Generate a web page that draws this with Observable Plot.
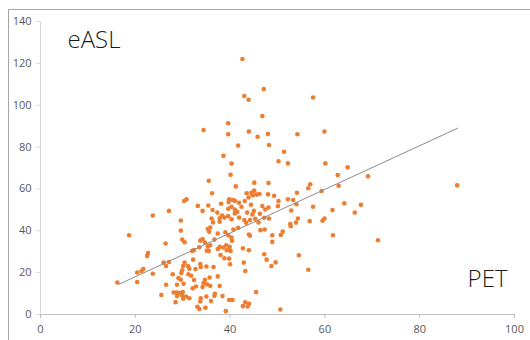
<!DOCTYPE html>
<html>
<head>
<meta charset="utf-8">
<script src="https://cdn.jsdelivr.net/npm/d3@7"></script>
<script src="https://cdn.jsdelivr.net/npm/@observablehq/plot@0.6"></script>
<style>
  body { margin: 0; background: #fff; }
  #wrap { position: relative; width: 530px; height: 340px; overflow: hidden; }
  #border { position: absolute; left: 8px; top: 9px; width: 600px; height: 600px;
            border-left: 1px solid #a6a6a6; border-top: 1px solid #a6a6a6; pointer-events: none; }
</style>
</head>
<body>
<div id="wrap"><div id="border"></div></div>
<script>
const petValues = [
  42.6,47.1,43.0,43.9,57.5,46.8,39.6,34.4,43.96,59.9,39.6,47.98,54.2,45.8,41.7,48.2,38.6,51.4,50.2,52.2,
  40.3,60.1,64.8,40.1,69.1,62.7,41.2,45.1,48.1,62.9,87.9,35.5,56.9,56.5,59.3,54.1,36.2,44.5,45.1,45.6,
  46.2,44.8,48.0,49.3,43.9,30.8,30.3,39.8,41.0,41.9,43.1,52.2,53.3,50.2,64.1,67.6,38.1,33.2,35.4,39.7,
  44.4,54.0,57.5,46.8,48.1,47.4,50.1,39.6,41.0,42.4,27.1,34.2,36.3,37.3,52.9,61.6,66.3,43.6,44.7,46.3,
  41.0,38.3,23.7,36.1,37.8,38.8,39.6,40.3,45.3,47.2,48.2,54.3,59.9,59.5,29.6,37.8,56.8,53.9,52.7,52.8,
  43.4,46.0,41.7,40.7,46.4,47.3,35.3,29.6,35.8,51.1,50.7,48.9,43.97,44.2,18.7,61.7,39.0,39.6,40.3,40.4,
  37.4,71.2,29.9,30.4,33.7,34.2,34.7,36.7,48.9,26.4,35.3,35.8,37.8,39.2,39.9,33.5,32.4,32.0,35.1,35.5,
  37.4,38.6,39.3,40.1,42.7,43.97,22.7,22.5,54.5,47.2,37.99,38.8,39.8,47.7,32.2,27.1,25.97,26.5,42.9,49.6,
  40.0,30.4,30.1,31.1,33.7,33.8,35.0,36.5,31.4,32.7,29.9,29.7,48.7,56.5,43.2,20.4,21.3,21.7,23.7,27.9,
  31.2,31.8,35.7,37.4,29.1,29.6,32.4,34.7,16.2,20.4,30.2,34.4,35.1,28.8,26.5,34.2,32.8,37.8,35.8,32.1,
  28.1,28.8,29.5,30.0,45.5,25.5,28.8,29.9,30.7,31.4,30.1,33.8,35.0,36.7,36.8,38.4,28.5,33.7,35.97,39.8,
  40.5,43.2,44.0,42.7,43.7,33.1,33.5,34.8,39.1,50.6,40.6,41.9,43.0,44.2,45.0,43.5,40.3,35.6,36.4,41.5
];
const easlValues = [
  122.1,107.7,104.4,102.6,103.7,94.8,91.4,88.1,87.4,87.4,86.1,86.3,86.1,84.9,80.7,81.0,75.8,77.8,73.2,72.2,
  72.1,72.2,70.3,66.8,66.0,66.6,61.2,63.0,62.8,61.5,61.7,63.9,62.2,60.3,59.0,58.2,57.9,58.1,59.2,57.3,
  57.6,57.0,57.4,56.7,55.9,55.0,54.2,55.1,54.3,53.4,54.2,55.1,54.7,54.2,53.1,52.4,52.9,51.9,52.1,53.7,
  52.4,52.7,51.5,51.8,51.1,50.2,51.8,50.5,50.2,51.5,49.5,49.5,49.9,48.7,49.7,49.9,48.7,48.7,47.8,48.1,
  48.3,47.3,47.3,45.9,46.0,46.3,47.0,45.5,45.7,46.2,45.9,45.9,45.9,44.8,44.9,44.3,44.6,43.9,43.2,42.2,
  43.8,44.0,41.4,40.6,40.3,40.6,40.8,40.1,41.6,39.6,38.0,37.9,38.2,37.6,37.9,37.9,39.3,37.9,36.8,35.2,
  38.7,35.5,35.8,34.5,35.3,36.0,34.4,35.8,34.7,33.9,32.6,33.1,32.3,33.1,32.3,32.1,30.8,30.4,30.5,30.4,
  31.3,32.0,30.7,30.4,31.6,30.7,29.4,28.0,28.3,28.8,28.4,26.9,26.7,26.2,26.2,25.1,24.8,23.2,24.8,24.9,
  24.0,24.8,23.2,23.2,24.1,22.7,22.9,22.7,21.9,21.7,21.1,19.8,23.2,21.4,20.8,20.1,20.8,21.7,19.5,19.2,
  19.2,18.5,17.7,18.2,17.4,16.6,16.5,16.6,15.3,15.5,14.7,15.0,14.4,14.2,14.2,13.1,13.4,13.6,13.7,12.5,
  10.5,10.5,10.2,10.7,10.7,9.3,8.8,9.1,8.6,7.8,7.5,7.8,8.6,8.9,9.9,8.8,5.9,6.2,6.4,6.9,
  6.9,5.8,5.1,4.0,3.8,3.7,2.6,3.2,1.6,2.4,54.7,46.3,45.1,45.1,49.5,57.9,51.5,39.5,44.0,49.0
];
const trendPet = [16.5, 88];
const trendEasl = [14.4, 89.0];
const xTicks = [0, 20, 40, 60, 80, 100];
const yTicks = [0, 20, 40, 60, 80, 100, 120, 140];
const yLabel = "eASL";
const xLabel = "PET";

const points = petValues.map((p, i) => ({pet: p, easl: easlValues[i]}));
const trend = trendPet.map((p, i) => ({pet: p, easl: trendEasl[i]}));

const chart = Plot.plot({
  width: 530,
  height: 340,
  marginLeft: 40,
  marginRight: 16,
  marginTop: 21,
  marginBottom: 26,
  style: {fontFamily: "Open Sans, Liberation Sans, sans-serif", fontSize: "11px", color: "#595959", background: "transparent"},
  x: {domain: [0, 100], label: null},
  y: {domain: [0, 140], label: null},
  marks: [
    Plot.ruleX([0], {stroke: "#d9d9d9"}),
    Plot.axisY({ticks: yTicks, tickSize: 4, tickPadding: 5, stroke: "#d9d9d9", label: null, fill: "#595959"}),
    Plot.axisX({ticks: xTicks, tickSize: 4, tickPadding: 7, stroke: "#bfbfbf", label: null, fill: "#595959"}),
    Plot.ruleY([0], {stroke: "#bfbfbf"}),
    Plot.dot(points, {x: "pet", y: "easl", r: 2.3, fill: "#ED7D31", stroke: "none"}),
    Plot.line(trend, {x: "pet", y: "easl", stroke: "#8c8c8c", strokeWidth: 1}),
    Plot.text([yLabel], {frameAnchor: "top-left", dx: 27, dy: 9, fontSize: 24, fill: "#1a1a1a", textAnchor: "start", lineAnchor: "top", fontWeight: 300}),
    Plot.text([xLabel], {frameAnchor: "bottom-right", dx: -7, dy: -28, fontSize: 24, fill: "#1a1a1a", textAnchor: "end", lineAnchor: "bottom", fontWeight: 300})
  ]
});
document.getElementById("wrap").prepend(chart);
</script>
</body>
</html>
